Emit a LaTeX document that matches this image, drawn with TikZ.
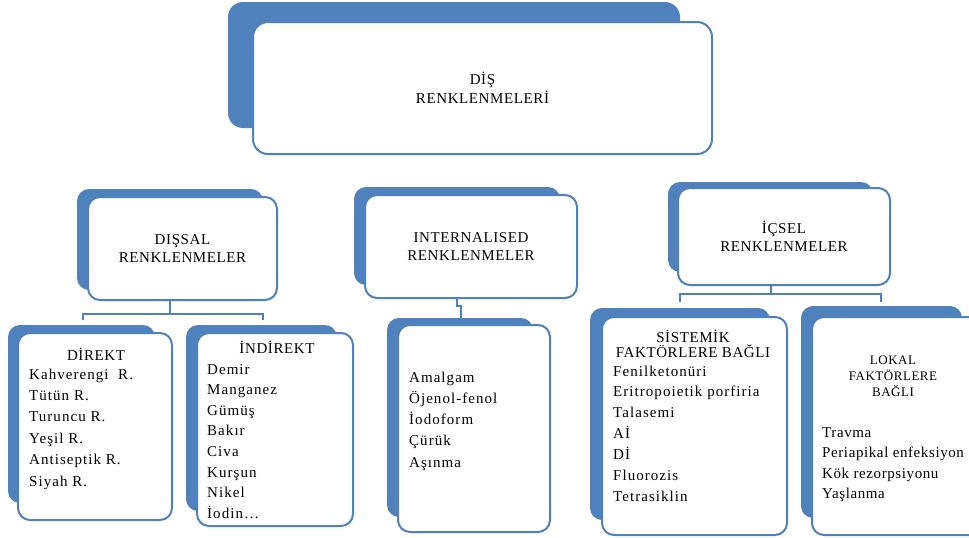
\documentclass[tikz,border=0pt]{standalone}
\usepackage{fontspec}
\setmainfont{Liberation Serif}[LetterSpace=7]
\newfontfamily\headfont{Liberation Serif}[LetterSpace=4]
\definecolor{cardblue}{RGB}{79,129,189}

\tikzset{
  card/.style={draw=cardblue, fill=white, line width=2pt, rounded corners=12pt,
    inner sep=0pt, align=center, font=\headfont\fontsize{15}{18.5}\selectfont},
  cardback/.style={fill=cardblue, rounded corners=12pt},
  link/.style={draw=cardblue, line width=2pt},
  entry/.style={anchor=base west, inner sep=0pt, font=\fontsize{15}{18}\selectfont},
  title/.style={inner sep=0pt, align=center, font=\headfont\fontsize{15}{14.5}\selectfont},
}

\begin{document}
\begin{tikzpicture}[x=1pt, y=-1pt]
    \useasboundingbox (0,0) rectangle (969,538);

    % blue plates behind the cards
    \fill[cardback, rounded corners=15pt] (228,2) rectangle (680,128);
    \fill[cardback] (77,189) rectangle (263,290);
    \fill[cardback] (354,187) rectangle (560,285);
    \fill[cardback] (668,182) rectangle (873,272);
    \fill[cardback] (8,325) rectangle (155,503);
    \fill[cardback] (186,325) rectangle (337,511);
    \fill[cardback] (387,318) rectangle (533,517);
    \fill[cardback] (590,308) rectangle (770,520);
    \fill[cardback] (801,306) rectangle (962,518);

    % cards
    \node[card, rounded corners=15pt, minimum width=459pt, minimum height=132pt] (dis) at (482.5,88) {DİŞ\\RENKLENMELERİ};
    \node[card, minimum width=189pt, minimum height=103pt] (dissal) at (182.5,248.5) {DIŞSAL\\RENKLENMELER};
    \node[card, minimum width=212pt, minimum height=103pt] (internal) at (471,246.5) {INTERNALISED\\RENKLENMELER};
    \node[card, minimum width=212pt, minimum height=97pt] (icsel) at (784,236.5) {İÇSEL\\RENKLENMELER};
    \node[card, minimum width=154pt, minimum height=187pt] (direkt) at (95,426.5) {};
    \node[card, minimum width=156pt, minimum height=193pt] (indirekt) at (275,429.5) {};
    \node[card, minimum width=152pt, minimum height=207pt] (intlist) at (474,428.5) {};
    \node[card, minimum width=185pt, minimum height=218pt] (sistemik) at (694.5,426) {};
    \node[card, minimum width=173pt, minimum height=218pt] (lokal) at (898.5,426) {};

    % connectors
    \coordinate (direkt-in) at (83,320);
    \coordinate (indirekt-in) at (263,320);
    \coordinate (intlist-in) at (461,318);
    \coordinate (sistemik-in) at (680,302);
    \coordinate (lokal-in) at (881,302);
    \draw[link] ([xshift=-12.5pt]dissal.south) -- ++(0,13) coordinate (dissal-fork) -| (direkt-in);
    \draw[link] (dissal-fork) -| (indirekt-in);
    \draw[link] ([xshift=-14pt]internal.south) -- ++(0,7) -| (intlist-in);
    \draw[link] ([xshift=-13pt]icsel.south) -- ++(0,8) coordinate (icsel-fork) -| (sistemik-in);
    \draw[link] (icsel-fork) -| (lokal-in);

    % texts in the lower cards
    \node[title, anchor=base] (direkt-title) at (96,360) {DİREKT};
    \foreach \txt [count=\i] in {Kahverengi\ \ R., Tütün R., Turuncu R., Yeşil R., Antiseptik R., Siyah R.}
      \node[entry] (direkt-\i) at (29,{379+21.4*(\i-1)}) {\txt};

    \node[title, anchor=base] (indirekt-title) at (277,353) {İNDİREKT};
    \foreach \txt [count=\i] in {Demir, Manganez, Gümüş, Bakır, Civa, Kurşun, Nikel, İodin…}
      \node[entry] (indirekt-\i) at (207,{374+20.6*(\i-1)}) {\txt};

    \foreach \txt [count=\i] in {Amalgam, Öjenol-fenol, İodoform, Çürük, Aşınma}
      \node[entry] (intlist-\i) at (409,{382+21.3*(\i-1)}) {\txt};

    \node[title] (sistemik-title) at (693,344) {SİSTEMİK\\FAKTÖRLERE BAĞLI};
    \foreach \txt [count=\i] in {Fenilketonüri, Eritropoietik porfiria, Talasemi, Aİ, Dİ, Fluorozis, Tetrasiklin}
      \node[entry] (sistemik-\i) at (613,{376+20.9*(\i-1)}) {\txt};

    \node[title, font=\headfont\fontsize{13}{16}\selectfont] (lokal-title) at (893,376) {LOKAL\\FAKTÖRLERE\\BAĞLI};
    \foreach \txt [count=\i] in {Travma, Periapikal enfeksiyon, Kök rezorpsiyonu, Yaşlanma}
      \node[entry, font=\headfont\fontsize{15}{18}\selectfont] (lokal-\i) at (822,{437+20.6*(\i-1)}) {\txt};
\end{tikzpicture}
\end{document}
